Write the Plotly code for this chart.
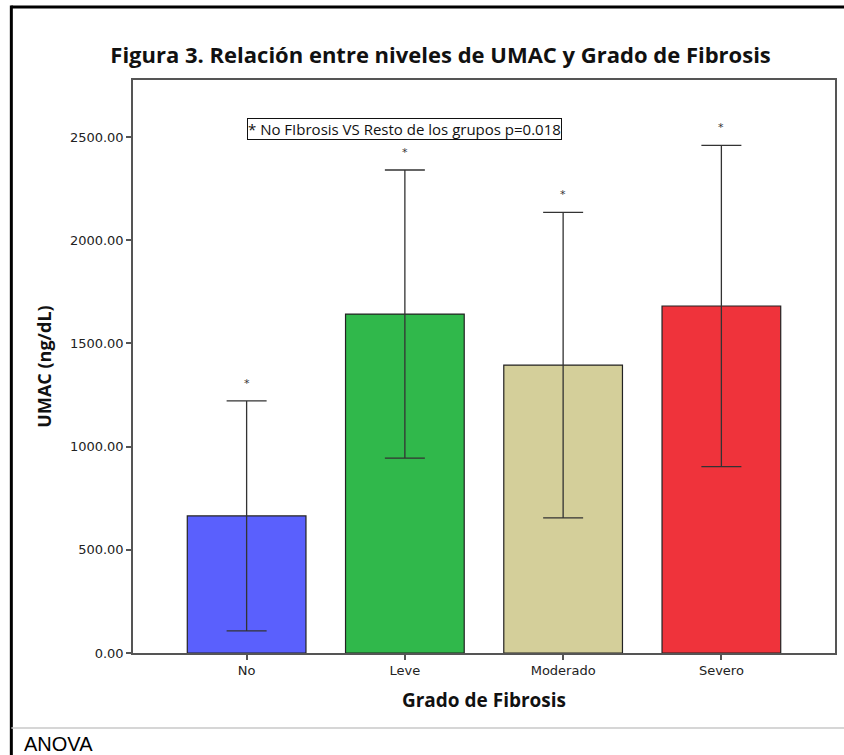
import plotly.graph_objects as go

# Grado de fibrosis: media de UMAC y su desviación
categorias = ["No", "Leve", "Moderado", "Severo"]
medias = [664, 1642, 1395, 1681]
desviaciones = [557, 698, 740, 778]
colores = ["#5a60fd", "#30b84b", "#d4cf9a", "#ef333b"]
marcas = ["*", "*", "*", "*"]

y_ticks = [0, 500, 1000, 1500, 2000, 2500]
y_tick_text = [f"{v:.2f}" for v in y_ticks]

fig = go.Figure()
fig.add_trace(go.Bar(
    x=categorias,
    y=medias,
    width=0.75,
    marker=dict(color=colores, line=dict(color="#222222", width=1.2)),
    error_y=dict(type="data", array=desviaciones, visible=True,
                 color="#333333", thickness=1.3, width=20),
    showlegend=False,
))

# Asteriscos sobre cada barra de error
for cat, m, d, s in zip(categorias, medias, desviaciones, marcas):
    fig.add_annotation(x=cat, y=m + d, text=s, showarrow=False,
                       yanchor="bottom", yshift=9,
                       font=dict(family="DejaVu Sans", size=11, color="#333333"))

fig.add_annotation(
    x="Leve", y=2540, text="* No FIbrosis VS Resto de los grupos p=0.018",
    showarrow=False, yanchor="middle",
    bordercolor="#111111", borderwidth=1, borderpad=0,
    font=dict(family="Open Sans", size=15, color="#111111"),
)

# Marco exterior, separador y texto inferior
fig.add_shape(type="line", xref="paper", yref="paper", x0=-0.1733, x1=1.02,
              y0=1.1274, y1=1.1274, line=dict(color="black", width=3))
fig.add_shape(type="line", xref="paper", yref="paper", x0=-0.1733, x1=-0.1733,
              y0=1.13, y1=-0.2, line=dict(color="black", width=3))
fig.add_shape(type="line", xref="paper", yref="paper", x0=-0.1733, x1=1.02,
              y0=-0.1309, y1=-0.1309, line=dict(color="#c8c8c8", width=1.5))
fig.add_annotation(xref="paper", yref="paper", x=-0.158, y=-0.136,
                   xanchor="left", yanchor="top", showarrow=False, text="ANOVA",
                   font=dict(family="Liberation Sans", size=20, color="black"))

fig.update_layout(
    width=844, height=755,
    margin=dict(l=133, r=7, t=80, b=102),
    paper_bgcolor="white", plot_bgcolor="white",
    title=dict(text="<b>Figura 3. Relación entre niveles de UMAC y Grado de Fibrosis</b>",
               x=0.522, xanchor="center", y=0.927, yanchor="middle",
               font=dict(family="Open Sans", size=22, color="#111111")),
    bargap=0.25,
)
fig.update_xaxes(
    range=[-0.718, 3.718], showgrid=False,
    showline=True, linecolor="#555555", linewidth=1.5, mirror=True,
    ticks="outside", ticklen=5, tickcolor="#555555", tickwidth=1.5,
    tickfont=dict(family="DejaVu Sans", size=13, color="#222222"),
    title=dict(text="<b>Grado de Fibrosis</b>", standoff=16,
               font=dict(family="Open Sans", size=19, color="#111111")),
)
fig.update_yaxes(
    range=[0, 2776], showgrid=False, zeroline=False,
    tickvals=y_ticks, ticktext=y_tick_text,
    showline=True, linecolor="#555555", linewidth=1.5, mirror=True,
    ticks="outside", ticklen=5, tickcolor="#555555", tickwidth=1.5,
    tickfont=dict(family="DejaVu Sans", size=13, color="#222222"),
    title=dict(text="<b>UMAC (ng/dL)</b>", standoff=14,
               font=dict(family="Open Sans", size=18, color="#111111")),
)

fig.write_html("out.html")
